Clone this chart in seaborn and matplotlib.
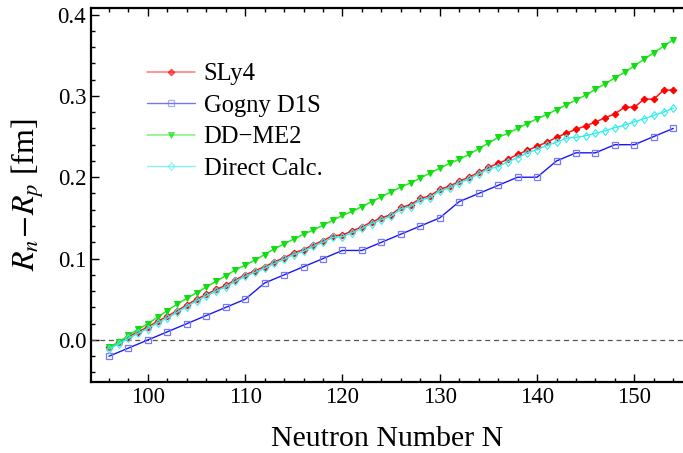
import numpy as np
import pandas as pd
import matplotlib
matplotlib.use("Agg")
import matplotlib.pyplot as plt
from matplotlib.ticker import MultipleLocator
import seaborn as sns

# ---- data ----
N_all = list(range(96, 155))
sly4 = [-0.009, -0.003, 0.004, 0.010, 0.016, 0.023, 0.029, 0.036, 0.043, 0.050,
        0.056, 0.062, 0.067, 0.074, 0.080, 0.085, 0.090, 0.096, 0.101, 0.107,
        0.111, 0.117, 0.122, 0.128, 0.129, 0.134, 0.139, 0.145, 0.150, 0.154,
        0.163, 0.166, 0.174, 0.177, 0.185, 0.189, 0.195, 0.200, 0.206, 0.212,
        0.217, 0.222, 0.228, 0.233, 0.238, 0.243, 0.249, 0.254, 0.259, 0.263,
        0.268, 0.273, 0.278, 0.286, 0.286, 0.296, 0.296, 0.307, 0.307]
ddme2 = [-0.009, -0.003, 0.006, 0.013, 0.020, 0.028, 0.036, 0.044, 0.051, 0.058,
         0.065, 0.072, 0.079, 0.086, 0.092, 0.098, 0.105, 0.112, 0.118, 0.124,
         0.130, 0.135, 0.141, 0.147, 0.153, 0.158, 0.164, 0.170, 0.176, 0.182,
         0.188, 0.193, 0.199, 0.205, 0.211, 0.217, 0.222, 0.228, 0.235, 0.242,
         0.249, 0.254, 0.260, 0.266, 0.272, 0.277, 0.283, 0.289, 0.295, 0.301,
         0.308, 0.315, 0.322, 0.329, 0.337, 0.345, 0.353, 0.361, 0.369]
direct = [-0.011, -0.005, 0.002, 0.008, 0.014, 0.021, 0.027, 0.034, 0.041, 0.048,
          0.054, 0.060, 0.065, 0.072, 0.078, 0.083, 0.088, 0.094, 0.099, 0.105,
          0.109, 0.115, 0.120, 0.126, 0.127, 0.132, 0.137, 0.143, 0.148, 0.152,
          0.161, 0.164, 0.172, 0.175, 0.183, 0.187, 0.193, 0.198, 0.204, 0.210,
          0.213, 0.219, 0.224, 0.230, 0.234, 0.239, 0.243, 0.248, 0.249, 0.251,
          0.254, 0.257, 0.261, 0.264, 0.268, 0.272, 0.276, 0.280, 0.285]
N_gogny = list(range(96, 155, 2))
gogny = [-0.02, -0.01, 0.00, 0.01, 0.02, 0.03, 0.04, 0.05, 0.07, 0.08,
         0.09, 0.10, 0.11, 0.11, 0.12, 0.13, 0.14, 0.15, 0.17, 0.18,
         0.19, 0.20, 0.20, 0.22, 0.23, 0.23, 0.24, 0.24, 0.25, 0.26]
labels = ["SLy4", "Gogny D1S", "DD\u2212ME2", "Direct Calc."]
x_ticks = [100, 110, 120, 130, 140, 150]
y_ticks = [0.0, 0.1, 0.2, 0.3, 0.4]

df_main = pd.DataFrame({"N": N_all, "SLy4": sly4, "DD": ddme2, "Direct": direct})
df_g = pd.DataFrame({"N": N_gogny, "Gogny": gogny})

sns.set_theme(style="ticks")
plt.rcParams["font.family"] = ["Liberation Serif", "DejaVu Serif"]
plt.rcParams["mathtext.fontset"] = "stix"
plt.rcParams["text.color"] = "black"
plt.rcParams["axes.labelcolor"] = "black"

W, H = 683, 453
fig = plt.figure(figsize=(W / 100, H / 100), dpi=100)
ax = fig.add_axes([91 / W, 1 - 382 / H, 592 / W, 374 / H])

ax.axhline(0, color="#555555", lw=0.9, ls=(0, (4, 3)), zorder=1)

sns.lineplot(data=df_main, x="N", y="SLy4", ax=ax, color="#ff1a1a", lw=1.1,
             marker="D", markersize=3.4, markerfacecolor="#ff0000",
             markeredgecolor="#ff0000", label=labels[0])
sns.lineplot(data=df_g, x="N", y="Gogny", ax=ax, color="#1a1aee", lw=1.0,
             marker="s", markersize=5, markerfacecolor="none",
             markeredgecolor="#7777ff", markeredgewidth=0.9, label=labels[1])
sns.lineplot(data=df_main, x="N", y="DD", ax=ax, color="#22ee22", lw=1.1,
             marker="v", markersize=5, markerfacecolor="#11dd11",
             markeredgecolor="#11dd11", label=labels[2])
sns.lineplot(data=df_main, x="N", y="Direct", ax=ax, color="#33eeee", lw=1.0,
             marker="d", markersize=4.3, markerfacecolor="none",
             markeredgecolor="#33eeee", markeredgewidth=0.8, label=labels[3])

ax.set_xlim(94.15, 155.0)
ax.set_ylim(-0.0517, 0.408)
ax.set_xticks(x_ticks)
ax.set_yticks(y_ticks)
ax.set_yticklabels([f"{v:.1f}" for v in y_ticks])
ax.xaxis.set_minor_locator(MultipleLocator(2))
ax.yaxis.set_minor_locator(MultipleLocator(0.02))
ax.tick_params(which="both", direction="in", top=True, right=False,
               labelsize=16.5, colors="black", width=1.0)
ax.tick_params(which="major", length=6)
ax.tick_params(which="minor", length=3)
for s in ["left", "bottom", "top"]:
    ax.spines[s].set_linewidth(1.6)
    ax.spines[s].set_color("black")
ax.spines["right"].set_visible(False)

ax.set_xlabel("Neutron Number N", fontsize=21.5, labelpad=13, color="black")
ax.set_ylabel(r"$R_n\!-\!R_p$ [fm]", fontsize=23, labelpad=8, color="black")

leg = ax.legend(loc="upper left", bbox_to_anchor=(147 / W, 1 - 63 / H),
                bbox_transform=fig.transFigure, frameon=False, fontsize=17.7,
                handlelength=1.95, handletextpad=0.35, labelspacing=0.38,
                borderpad=0, borderaxespad=0)
for t in leg.get_texts():
    t.set_color("black")
for h in leg.get_lines():
    h.set_alpha(0.6)

fig.savefig("out.png", dpi=100)
